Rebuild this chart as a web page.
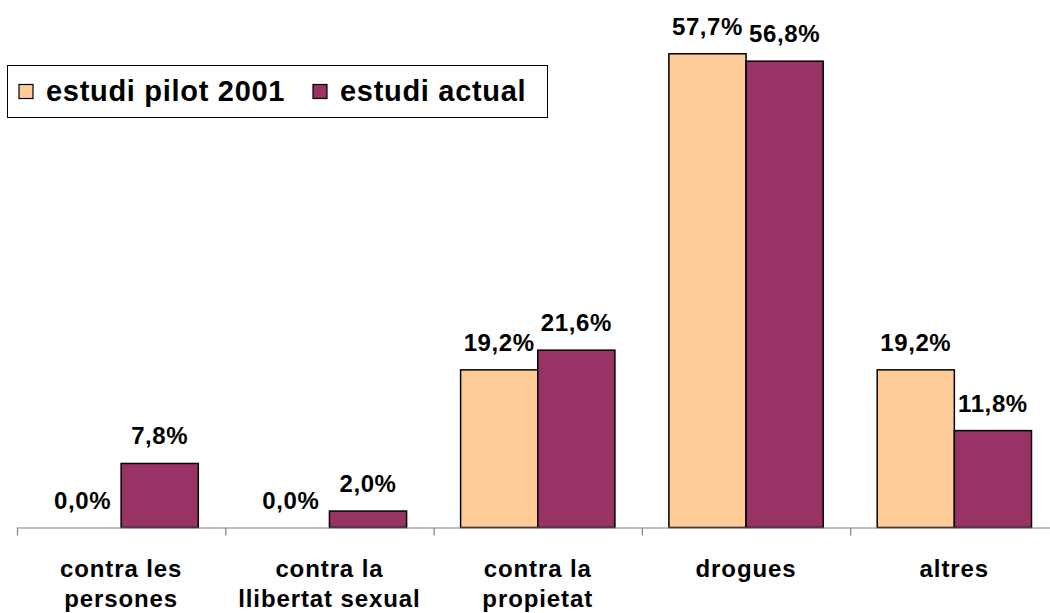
<!DOCTYPE html>
<html>
<head>
<meta charset="utf-8">
<script src="https://cdn.jsdelivr.net/npm/d3@7"></script>
<style>
	body { margin: 0; background: #fff; }
	svg { display: block; font-family: 'Liberation Sans', Arial, sans-serif; font-weight: bold; }
</style>
</head>
<body>
<div class="svg-container"></div>
<script>
const w = 1050;
const h = 613;

const categories = [
	['contra les', 'persones'],
	['contra la', 'llibertat sexual'],
	['contra la', 'propietat'],
	['drogues'],
	['altres'],
];
const seriesNames = ['estudi pilot 2001', 'estudi actual'];
const pilot2001 = [0.0, 0.0, 19.2, 57.7, 19.2];
const actual = [7.8, 2.0, 21.6, 56.8, 11.8];
const colorMap = ['#FFCC99', '#993366'];

const svg = d3
	.select('.svg-container')
	.append('svg')
	.attr('width', w)
	.attr('height', h)
	.style('background-color', '#fff');

const x0 = 17;
const x1 = 1058.5;
const baseY = 527.5;

const xScale = d3
	.scaleBand()
	.domain(d3.range(categories.length))
	.range([x0, x1]);

const xInner = d3
	.scaleBand()
	.domain(d3.range(seriesNames.length))
	.range([0, xScale.bandwidth()])
	.paddingInner(0)
	.paddingOuter(0.35);

const yScale = d3
	.scaleLinear()
	.domain([0, 60])
	.range([baseY, baseY - 60 * 8.21]);

// one row per category: [{s: series index, v: value}, ...]
const rows = categories.map((c, i) => [
	{s: 0, v: pilot2001[i]},
	{s: 1, v: actual[i]},
]);

const groups = svg
	.selectAll('g.cat')
	.data(rows)
	.enter()
	.append('g')
	.attr('class', 'cat')
	.attr('transform', (d, i) => `translate(${xScale(i)},0)`);

groups
	.selectAll('rect')
	.data(d => d.filter(item => item.v > 0))
	.enter()
	.append('rect')
	.attr('x', d => xInner(d.s))
	.attr('y', d => yScale(d.v))
	.attr('width', xInner.bandwidth())
	.attr('height', d => baseY - yScale(d.v))
	.attr('fill', d => colorMap[d.s])
	.attr('stroke', '#000')
	.attr('stroke-width', 1.5);

groups
	.selectAll('text.val')
	.data(d => d)
	.enter()
	.append('text')
	.attr('class', 'val')
	.attr('x', d => xInner(d.s) + xInner.bandwidth() / 2)
	.attr('y', d => yScale(d.v) - 19)
	.attr('text-anchor', 'middle')
	.style('font-size', '24px')
	.style('letter-spacing', '0.6px')
	.text(d => d.v.toFixed(1).replace('.', ',') + '%');

// axis: ticks sit on category boundaries
const boundScale = d3
	.scaleLinear()
	.domain([0, categories.length])
	.range([x0, x1]);
const xAxis = d3
	.axisBottom(boundScale)
	.tickValues(d3.range(categories.length + 1))
	.tickSize(8)
	.tickSizeOuter(0)
	.tickFormat('');

const axisG = svg
	.append('g')
	.attr('transform', `translate(0,${baseY})`)
	.call(xAxis);
axisG.selectAll('path, line').attr('stroke', '#808080').attr('stroke-width', 1.2);

const labels = svg
	.selectAll('text.cat-label')
	.data(categories)
	.enter()
	.append('text')
	.attr('class', 'cat-label')
	.attr('text-anchor', 'middle')
	.style('font-size', '24px')
	.style('letter-spacing', '0.9px');

labels
	.selectAll('tspan')
	.data((d, i) => d.map(t => ({t, i})))
	.enter()
	.append('tspan')
	.attr('x', d => xScale(d.i) + xScale.bandwidth() / 2)
	.attr('y', (d, j) => 577 + j * 29.5)
	.text(d => d.t);

// legend
const legend = svg.append('g').attr('id', 'legend');
legend
	.append('rect')
	.attr('x', 7.5)
	.attr('y', 65.5)
	.attr('width', 540)
	.attr('height', 52)
	.attr('fill', '#fff')
	.attr('stroke', '#000')
	.attr('stroke-width', 1);

const legendX = [19, 313];
const items = legend
	.selectAll('g.item')
	.data(seriesNames)
	.enter()
	.append('g')
	.attr('class', 'item')
	.attr('transform', (d, i) => `translate(${legendX[i]},0)`);

items
	.append('rect')
	.attr('x', 0)
	.attr('y', 84.5)
	.attr('width', 14)
	.attr('height', 14)
	.attr('fill', (d, i) => colorMap[i])
	.attr('stroke', '#000')
	.attr('stroke-width', 1.2);

items
	.append('text')
	.attr('x', 27)
	.attr('y', 101)
	.style('font-size', '29px')
	.style('letter-spacing', '0.7px')
	.text(d => d);
</script>
</body>
</html>
